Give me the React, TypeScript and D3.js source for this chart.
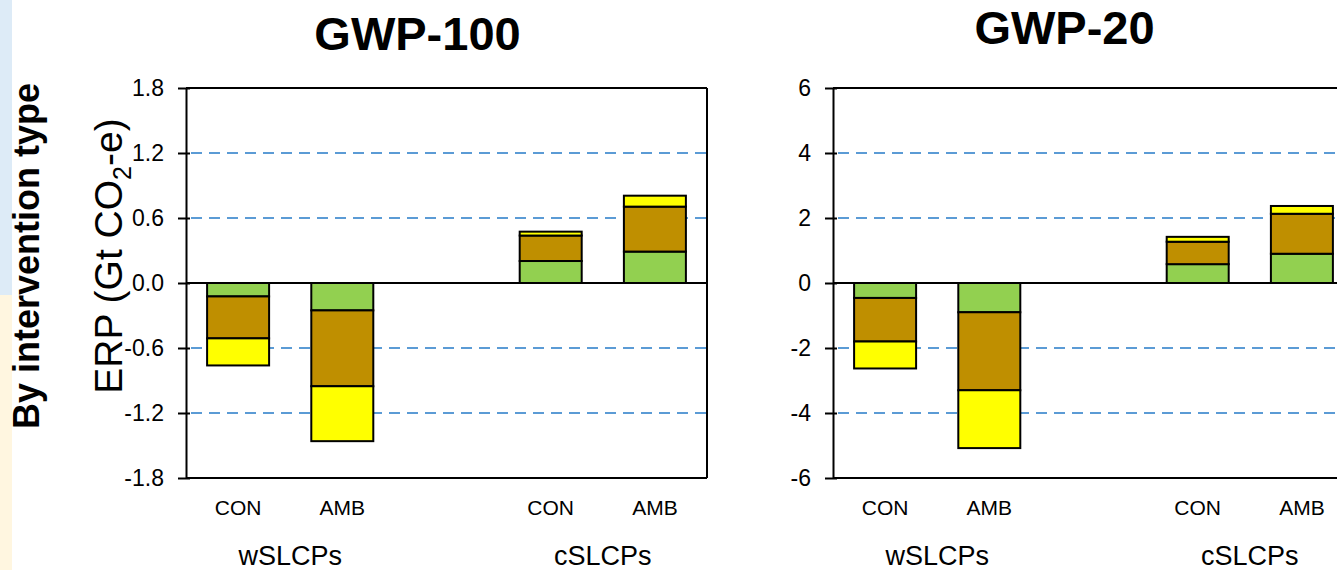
import React, { useEffect, useRef } from 'react';
import * as d3 from 'd3';

// bar slots: CON / AMB for each SLCP group, with an empty slot in between
const slots = ["wCON", "wAMB", "gap", "cCON", "cAMB"];
const slotLabels = ["CON", "AMB", "", "CON", "AMB"];
const groups = ["wSLCPs", "cSLCPs"];
const barSlots = ["wCON", "wAMB", "cCON", "cAMB"];

// stacked components, from zero outwards
const layers = ["green", "brown", "yellow"];
const layerColors = ["#92D050", "#BF8F00", "#FFFF00"];

// GWP-100 (Gt CO2-e)
const gwp100Green = [-0.124, -0.253, 0.203, 0.29];
const gwp100Brown = [-0.387, -0.70, 0.235, 0.415];
const gwp100Yellow = [-0.25, -0.507, 0.036, 0.101];
const gwp100Ticks = [-1.8, -1.2, -0.6, 0.0, 0.6, 1.2, 1.8];
const gwp100Grid = [-1.2, -0.6, 0.6, 1.2];

// GWP-20 (Gt CO2-e)
const gwp20Green = [-0.46, -0.9, 0.58, 0.9];
const gwp20Brown = [-1.34, -2.4, 0.69, 1.23];
const gwp20Yellow = [-0.83, -1.78, 0.15, 0.24];
const gwp20Ticks = [-6, -4, -2, 0, 2, 4, 6];
const gwp20Grid = [-4, -2, 2, 4];

const FONT = "'Liberation Sans', Arial, sans-serif";

const App = () => {
    const svgRef = useRef(null);

    useEffect(() => {
        const svg = d3.select(svgRef.current).html("");

        // faint frame strip on the left edge
        svg.append("rect").attr("x", 0).attr("y", 0).attr("width", 12).attr("height", 295).attr("fill", "#DDEBF7");
        svg.append("rect").attr("x", 0).attr("y", 295).attr("width", 12).attr("height", 275).attr("fill", "#FFF6E0");

        svg.append("text")
            .attr("transform", "translate(39,256) rotate(-90)")
            .attr("text-anchor", "middle")
            .style("font-family", FONT).style("font-size", "36px").style("font-weight", "bold")
            .text("By intervention type");

        const yt = svg.append("text")
            .attr("transform", "translate(122,256) rotate(-90)")
            .attr("text-anchor", "middle")
            .style("font-family", FONT).style("font-size", "39px");
        yt.append("tspan").text("ERP  (Gt CO");
        yt.append("tspan").attr("dy", 9).style("font-size", "25px").text("2");
        yt.append("tspan").attr("dy", -9).text("-e)");

        const panels = [
            { title: "GWP-100", titleY: 50, x0: 186, domain: [-1.8, 1.8], ticks: gwp100Ticks, grid: gwp100Grid,
              fmt: d3.format(".1f"), values: [gwp100Green, gwp100Brown, gwp100Yellow] },
            { title: "GWP-20", titleY: 44, x0: 833, domain: [-6, 6], ticks: gwp20Ticks, grid: gwp20Grid,
              fmt: d3.format("d"), values: [gwp20Green, gwp20Brown, gwp20Yellow] },
        ];
        const plotW = 521;
        const top = 88, bottom = 478;

        panels.forEach(p => {
            const g = svg.append("g");
            const x = d3.scaleBand().domain(slots).range([p.x0, p.x0 + plotW]).paddingInner(0.405).paddingOuter(0.2025);
            const y = d3.scaleLinear().domain(p.domain).range([bottom, top]);

            g.append("text")
                .attr("x", p.x0 + plotW / 2 - 29).attr("y", p.titleY)
                .attr("text-anchor", "middle")
                .style("font-family", FONT).style("font-size", "47px").style("font-weight", "bold")
                .text(p.title);

            // dashed gridlines
            g.selectAll(".grid").data(p.grid).enter().append("line")
                .attr("x1", p.x0 + 5).attr("x2", p.x0 + plotW)
                .attr("y1", d => y(d)).attr("y2", d => y(d))
                .attr("stroke", "#5B9BD5").attr("stroke-width", 2.2).attr("stroke-dasharray", "11,7");

            // stacked bars
            barSlots.forEach((s, i) => {
                let base = 0;
                layers.forEach((l, k) => {
                    const v = p.values[k][i];
                    const a = y(base), b = y(base + v);
                    g.append("rect")
                        .attr("x", x(s)).attr("width", x.bandwidth())
                        .attr("y", Math.min(a, b)).attr("height", Math.abs(a - b))
                        .attr("fill", layerColors[k]).attr("stroke", "#000").attr("stroke-width", 2);
                    base += v;
                });
            });

            // frame: top, right and bottom border, zero line
            g.append("line").attr("x1", p.x0).attr("x2", p.x0 + plotW).attr("y1", top).attr("y2", top)
                .attr("stroke", "#000").attr("stroke-width", 2);
            g.append("line").attr("x1", p.x0 + plotW).attr("x2", p.x0 + plotW).attr("y1", top).attr("y2", bottom)
                .attr("stroke", "#000").attr("stroke-width", 2);
            g.append("line").attr("x1", p.x0).attr("x2", p.x0 + plotW).attr("y1", bottom).attr("y2", bottom)
                .attr("stroke", "#000").attr("stroke-width", 2);
            g.append("line").attr("x1", p.x0).attr("x2", p.x0 + plotW).attr("y1", y(0)).attr("y2", y(0))
                .attr("stroke", "#000").attr("stroke-width", 2);

            // y axis with crossing ticks, hyphen minus like the original
            const ax = g.append("g").attr("transform", `translate(${p.x0},0)`)
                .call(d3.axisLeft(y).tickValues(p.ticks)
                    .tickFormat(d => p.fmt(d).replace("\u2212", "-"))
                    .tickSizeInner(8).tickSizeOuter(0).tickPadding(14));
            ax.select(".domain").attr("stroke", "#000").attr("stroke-width", 2);
            ax.selectAll(".tick line").attr("stroke", "#000").attr("stroke-width", 2).attr("x2", -8).attr("x1", 4);
            ax.selectAll(".tick text")
                .style("font-family", FONT).style("font-size", "23px").attr("fill", "#000");

            // category labels
            g.selectAll(".cat").data(slots).enter().append("text")
                .attr("x", d => x(d) + x.bandwidth() / 2).attr("y", 515)
                .attr("text-anchor", "middle")
                .style("font-family", FONT).style("font-size", "21px")
                .text((d, i) => slotLabels[i]);

            groups.forEach((gr, j) => {
                const a = x(slots[j * 3]), b = x(slots[j * 3 + 1]) + x.bandwidth();
                g.append("text")
                    .attr("x", (a + b) / 2).attr("y", 565)
                    .attr("text-anchor", "middle")
                    .style("font-family", FONT).style("font-size", "27px")
                    .text(gr);
            });
        });
    }, []);

    return <svg ref={svgRef} width={1337} height={570}
        style={{ position: "absolute", left: 0, top: 0, background: "#fff" }} />;
};

export default App;
